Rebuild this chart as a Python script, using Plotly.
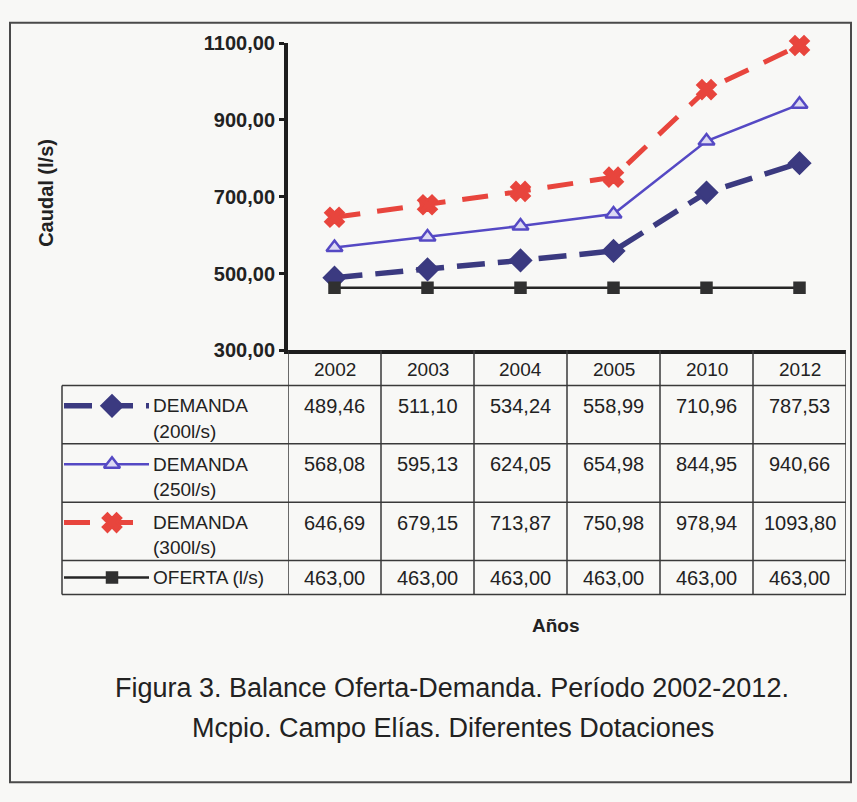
import plotly.graph_objects as go

# Figure size (pixels)
W, H = 857, 802

# Data
years = ["2002", "2003", "2004", "2005", "2010", "2012"]
demanda_200 = [489.46, 511.10, 534.24, 558.99, 710.96, 787.53]
demanda_250 = [568.08, 595.13, 624.05, 654.98, 844.95, 940.66]
demanda_300 = [646.69, 679.15, 713.87, 750.98, 978.94, 1093.80]
oferta = [463.00, 463.00, 463.00, 463.00, 463.00, 463.00]

row_labels = [["DEMANDA", "(200l/s)"], ["DEMANDA", "(250l/s)"],
              ["DEMANDA", "(300l/s)"], ["OFERTA (l/s)"]]
y_ticks = [300, 500, 700, 900, 1100]

series = [demanda_200, demanda_250, demanda_300, oferta]
styles = [
    dict(color="#3b3a80", width=5.5, dash="28px,13px", symbol="diamond", size=16,
         mfill="#3b3a80", mline="#3b3a80"),
    dict(color="#5549c4", width=2.5, dash="solid", symbol="triangle-up", size=14,
         mfill="#dcdaf3", mline="#5549c4"),
    dict(color="#e8453d", width=5, dash="26px,17px", symbol="x", size=16,
         mfill="#e8453d", mline="#e8453d"),
    dict(color="#262626", width=2.5, dash="solid", symbol="square", size=10,
         mfill="#303030", mline="#303030"),
]


def fmt(v):
    return f"{v:.2f}".replace(".", ",")


def px(x):
    return x / W


def py(y):
    return 1 - y / H


# Layout geometry in pixels
PLOT_L, PLOT_R, PLOT_T, PLOT_B = 288, 846, 33, 349
TAB_L = 62
ROW_EDGES = [349, 385, 445, 505, 565, 600]
LINE_COL = "#3a3a3a"
TEXT_COL = "#222222"
FONT = "Liberation Sans, Arial, sans-serif"

fig = go.Figure()

for vals, st in zip(series, styles):
    fig.add_trace(go.Scatter(
        x=years, y=vals, mode="lines+markers", cliponaxis=False,
        line=dict(color=st["color"], width=st["width"], dash=st["dash"]),
        marker=dict(symbol=st["symbol"], size=st["size"], color=st["mfill"],
                    line=dict(color=st["mline"], width=2.5)),
        showlegend=False, hoverinfo="skip",
    ))

shapes = []
annotations = []


def label(x, y, text, size, xref="paper", xanchor="center", **kw):
    annotations.append(dict(x=x, y=y, xref=xref, yref="paper", text=text,
                            showarrow=False, xanchor=xanchor, yanchor="middle",
                            font=dict(family=FONT, size=size, color=TEXT_COL), **kw))


# Table grid
for y in ROW_EDGES[1:]:
    shapes.append(dict(type="line", xref="paper", yref="paper",
                       x0=px(TAB_L), x1=px(PLOT_R), y0=py(y), y1=py(y),
                       line=dict(color=LINE_COL, width=1.5)))
shapes.append(dict(type="line", xref="paper", yref="paper",
                   x0=px(TAB_L), x1=px(TAB_L), y0=py(ROW_EDGES[1]), y1=py(ROW_EDGES[-1]),
                   line=dict(color=LINE_COL, width=1.5)))
for i in range(len(years) + 1):
    shapes.append(dict(type="line", xref="x", yref="paper",
                       x0=i - 0.5, x1=i - 0.5, y0=py(ROW_EDGES[0]), y1=py(ROW_EDGES[-1]),
                       line=dict(color=LINE_COL, width=1.5)))

# Outer frame
shapes.append(dict(type="rect", xref="paper", yref="paper",
                   x0=px(10), x1=px(851), y0=py(793), y1=py(12),
                   line=dict(color="#4a4a4a", width=2), layer="below"))

# Header: years
for i, yr in enumerate(years):
    label(i, py((ROW_EDGES[0] + ROW_EDGES[1]) / 2 + 2), yr, 19, xref="x")

# Table values, row labels and legend keys
for r, (vals, labels) in enumerate(zip(series, row_labels)):
    top = ROW_EDGES[r + 1]
    first_line = top + 21 if len(labels) > 1 else (top + ROW_EDGES[r + 2]) / 2
    for i, v in enumerate(vals):
        label(i, py(first_line), fmt(v), 20, xref="x")
    for k, lab in enumerate(labels):
        label(px(151), py(first_line + 26 * k), lab, 19, xanchor="left")
    st = styles[r]
    fig.add_trace(go.Scatter(
        x=[64, 149], y=[first_line, first_line], xaxis="x2", yaxis="y2",
        mode="lines", cliponaxis=False,
        line=dict(color=st["color"], width=st["width"], dash=st["dash"]),
        showlegend=False, hoverinfo="skip",
    ))
    fig.add_trace(go.Scatter(
        x=[112], y=[first_line], xaxis="x2", yaxis="y2",
        mode="markers", cliponaxis=False,
        marker=dict(symbol=st["symbol"], size=st["size"], color=st["mfill"],
                    line=dict(color=st["mline"], width=2.5)),
        showlegend=False, hoverinfo="skip",
    ))

# Axis titles and caption
label(px(46), py(187), "<b>Caudal (l/s)</b>", 20, textangle=-90)
label(px(556), py(632), "<b>Años</b>", 19)
label(px(452), py(696), "Figura 3. Balance Oferta-Demanda. Período 2002-2012.", 27)
label(px(453), py(737), "Mcpio. Campo Elías. Diferentes Dotaciones", 27)

fig.update_layout(
    width=W, height=H, margin=dict(l=0, r=0, t=0, b=0),
    paper_bgcolor="#f8f8f6", plot_bgcolor="rgba(0,0,0,0)",
    shapes=shapes, annotations=annotations,
    xaxis=dict(domain=[px(PLOT_L), px(PLOT_R)], type="category",
               categoryorder="array", categoryarray=years,
               range=[-0.5, len(years) - 0.5],
               showticklabels=False, ticks="", showgrid=False, zeroline=False,
               showline=True, linecolor="#1e1e1e", linewidth=4),
    yaxis=dict(domain=[py(PLOT_B), py(PLOT_T)], range=[300, 1100],
               tickvals=y_ticks, ticktext=[fmt(v) for v in y_ticks],
               tickfont=dict(family=FONT, size=20, color="#222222", weight="bold"),
               ticks="outside", ticklen=5, tickwidth=2.5, tickcolor="#1e1e1e",
               showgrid=False, zeroline=False,
               showline=True, linecolor="#1e1e1e", linewidth=4),
    xaxis2=dict(domain=[0, 1], range=[0, W], visible=False, anchor="y2"),
    yaxis2=dict(domain=[0, 1], range=[H, 0], visible=False, anchor="x2"),
)

fig.write_html("out.html")
